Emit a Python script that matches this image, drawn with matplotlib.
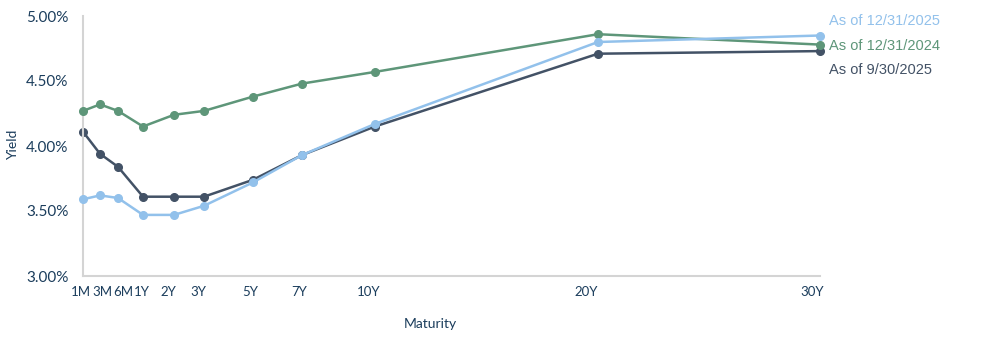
import matplotlib
matplotlib.use("Agg")
import matplotlib.pyplot as plt
from matplotlib.ticker import FuncFormatter

# maturities and their (uneven) place on the chart's x axis
maturities = ["1M", "3M", "6M", "1Y", "2Y", "3Y", "5Y", "7Y", "10Y", "20Y", "30Y"]
mat_axis = [0, 17, 35, 60, 91, 121, 170, 219, 292, 515, 737]
# the chart's category labels sit a little apart from the points
label_axis = [-2, 19, 40, 59, 85, 115, 167, 216, 286, 503, 729]

series_names = ["As of 12/31/2025", "As of 12/31/2024", "As of 9/30/2025"]
yld_2025_12 = [3.59, 3.62, 3.60, 3.47, 3.47, 3.54, 3.72, 3.93, 4.17, 4.80, 4.85]
yld_2024_12 = [4.27, 4.32, 4.27, 4.15, 4.24, 4.27, 4.38, 4.48, 4.57, 4.86, 4.78]
yld_2025_09 = [4.11, 3.94, 3.84, 3.61, 3.61, 3.61, 3.74, 3.93, 4.15, 4.71, 4.73]

colors = ["#92c1eb", "#5e9679", "#435266"]
TXT = "#1b3d5c"
font = "Lato"

fig = plt.figure(figsize=(9.91, 3.42), dpi=100)
ax = fig.add_axes([83 / 991, 1 - 276 / 342, (820 - 83) / 991, (276 - 16) / 342])

# draw order: 9/30 under, 12/31/2024, then 12/31/2025 on top
for ys, c, z in [(yld_2025_09, colors[2], 2), (yld_2024_12, colors[1], 3), (yld_2025_12, colors[0], 4)]:
    ax.plot(mat_axis, ys, color=c, lw=1.8, marker="o", ms=5.5, zorder=z, clip_on=False)

ax.set_xlim(mat_axis[0], mat_axis[-1])
ax.set_ylim(3.0, 5.0)
ax.set_yticks([3.0, 3.5, 4.0, 4.5, 5.0])
ax.yaxis.set_major_formatter(FuncFormatter(lambda v, p: f"{v:.2f}%"))
ax.set_xticks([])
for x, lab in zip(label_axis, maturities):
    ax.text(x, -0.062, lab, transform=ax.get_xaxis_transform(), ha="center", va="center",
            fontsize=9.5, color=TXT, family=font, clip_on=False)

for lab in ax.get_yticklabels():
    lab.set_fontfamily(font)
    lab.set_color(TXT)
    lab.set_fontsize(11)
ax.tick_params(length=0)
ax.tick_params(axis="y", pad=10.5)

for s in ["top", "right"]:
    ax.spines[s].set_visible(False)
for s in ["left", "bottom"]:
    ax.spines[s].set_color("#d4d4d4")
    ax.spines[s].set_linewidth(1.5)

fig.text(13 / 991, 1 - 145 / 342, "Yield", rotation=90, ha="center", va="center",
         fontsize=10, color=TXT, family=font)
fig.text(430 / 991, 1 - 324 / 342, "Maturity", ha="center", va="center",
         fontsize=10, color=TXT, family=font)

for i, (name, c) in enumerate(zip(series_names, colors)):
    fig.text(829 / 991, 1 - (21 + 24.5 * i) / 342, name, ha="left", va="center",
             fontsize=10.5, color=c, family="Liberation Sans")

fig.savefig("out.png", dpi=100)
